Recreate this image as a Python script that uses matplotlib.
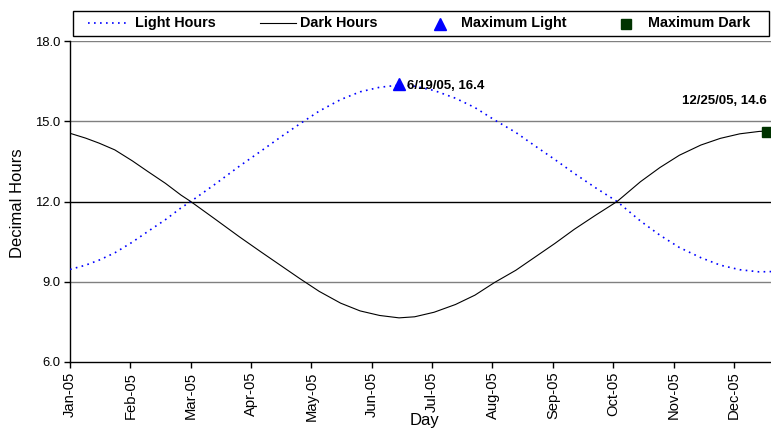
import datetime as dt

import matplotlib
matplotlib.use("Agg")
import matplotlib.pyplot as plt
from matplotlib.lines import Line2D
from matplotlib.patches import Rectangle

plt.rcParams["font.family"] = ["Liberation Sans", "DejaVu Sans"]

# day index from 1 Jan 2005 and hours of light / dark read at those days
DAYS = [0, 8, 15, 23, 32, 40, 49, 57, 62, 74, 87, 98, 108, 118, 128, 139,
        149, 159, 169, 177, 187, 198, 208, 218, 229, 239, 249, 259, 270, 281,
        293, 303, 313, 324, 334, 344, 354, 360, 364]
LIGHT = [9.46, 9.62, 9.81, 10.08, 10.48, 10.88, 11.32, 11.76, 12.00, 12.62,
         13.32, 13.88, 14.40, 14.90, 15.38, 15.81, 16.10, 16.27, 16.35, 16.31,
         16.15, 15.86, 15.51, 15.05, 14.58, 14.07, 13.57, 13.05, 12.51, 12.00,
         11.27, 10.74, 10.28, 9.90, 9.62, 9.45, 9.37, 9.38, 9.40]
DARK = [14.55, 14.37, 14.18, 13.93, 13.52, 13.12, 12.68, 12.24, 12.00, 11.37,
        10.68, 10.12, 9.62, 9.12, 8.64, 8.20, 7.91, 7.74, 7.65, 7.69, 7.86,
        8.15, 8.50, 8.97, 9.43, 9.93, 10.43, 10.96, 11.49, 12.00, 12.74, 13.27,
        13.73, 14.11, 14.36, 14.53, 14.62, 14.64, 14.62]

MAX_LIGHT_DAY, MAX_LIGHT = 169, 16.4   # 6/19/05
MAX_DARK_DAY, MAX_DARK = 358, 14.6     # 12/25/05

START = dt.date(2005, 1, 1)
TICK_DAYS = list(range(0, 365, 31))
TICK_LABELS = [(START + dt.timedelta(days=d)).strftime("%b-%y") for d in TICK_DAYS]
Y_TICKS = [6.0, 9.0, 12.0, 15.0, 18.0]

LIGHT_COLOR = "#0000ff"
DARK_SQ_COLOR = "#003300"

W, H = 771, 430
fig = plt.figure(figsize=(W / 100, H / 100), dpi=100)
# plot area runs slightly past the right edge of the image
ax = fig.add_axes([70 / W, 1 - 362 / H, 708.7 / W, 321 / H])

for y in (9.0, 15.0, 18.0):
    ax.axhline(y, color="#808080", lw=1.0, zorder=1)
ax.axhline(12.0, color="black", lw=1.0, zorder=1)

light_style = dict(color=LIGHT_COLOR, lw=1.2, linestyle=(0, (1, 2.6)))
dark_style = dict(color="black", lw=0.8)
ax.plot(DAYS, LIGHT, zorder=3, **light_style)
ax.plot(DAYS, DARK, zorder=3, **dark_style)
ax.plot([MAX_LIGHT_DAY], [MAX_LIGHT], marker="^", color=LIGHT_COLOR,
        ms=8, ls="none", zorder=4)
ax.plot([MAX_DARK_DAY], [MAX_DARK], marker="s", color=DARK_SQ_COLOR,
        ms=7, ls="none", zorder=4, clip_on=False)

ax.annotate(f"6/19/05, {MAX_LIGHT}", (MAX_LIGHT_DAY, MAX_LIGHT),
            xytext=(8, -2), textcoords="offset pixels", ha="left", va="center",
            fontsize=9.5, fontweight="bold")
ax.annotate(f"12/25/05, {MAX_DARK}", (MAX_DARK_DAY, MAX_DARK),
            xytext=(0, 31), textcoords="offset pixels", ha="right",
            va="center", fontsize=9.5, fontweight="bold")

ax.set_xlim(0, 364)
ax.set_ylim(6, 18)
ax.set_xticks(TICK_DAYS)
ax.set_xticklabels(TICK_LABELS, rotation=90, fontsize=10.6)
ax.set_yticks(Y_TICKS)
ax.set_yticklabels([f"{v:.1f}" for v in Y_TICKS], fontsize=9.4)
ax.tick_params(direction="out", length=4, width=1, color="black", pad=3)
for side in ("top", "right"):
    ax.spines[side].set_visible(False)
for side in ("left", "bottom"):
    ax.spines[side].set_linewidth(1.0)

fig.text(18 / W, 1 - 203 / H, "Decimal Hours", rotation=90, ha="center",
         va="center", fontsize=12)
fig.text(424 / W, 1 - 420 / H, "Day", ha="center", va="center", fontsize=12)


# legend strip across the top, laid out in pixel positions
def px(x, y):
    return x / W, 1 - y / H


fig.add_artist(Rectangle(px(73, 36), 696 / W, 25 / H, transform=fig.transFigure,
                         facecolor="white", edgecolor="black", lw=1.0))
LEG_Y = 23
fig.add_artist(Line2D([88 / W, 130 / W], [px(0, LEG_Y)[1]] * 2,
                      transform=fig.transFigure, **light_style))
fig.add_artist(Line2D([260 / W, 296 / W], [px(0, LEG_Y)[1]] * 2,
                      transform=fig.transFigure, **dark_style))
fig.add_artist(Line2D([440 / W], [px(0, LEG_Y + 1)[1]], marker="^", ms=8,
                      color=LIGHT_COLOR, ls="none", transform=fig.transFigure))
fig.add_artist(Line2D([626 / W], [px(0, LEG_Y + 1)[1]], marker="s", ms=6.5,
                      color=DARK_SQ_COLOR, ls="none", transform=fig.transFigure))
for x0, label in [(135, "Light Hours"), (300, "Dark Hours"),
                  (461, "Maximum Light"), (648, "Maximum Dark")]:
    fig.text(*px(x0, LEG_Y), label, ha="left", va="center", fontsize=10.4,
             fontweight="bold")

fig.savefig("out.png", dpi=100)
